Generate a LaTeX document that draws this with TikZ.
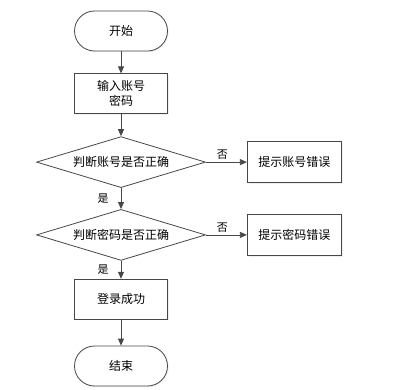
\documentclass[tikz,border=0pt]{standalone}
\usepackage{fontspec}
\newfontfamily\cjk{Noto Sans CJK SC}
\usepackage{tikz}
\usetikzlibrary{arrows.meta,shapes.geometric,positioning,shadows}

\begin{document}
\begin{tikzpicture}[
    >={Triangle[length=7pt,width=6pt]},
    font=\cjk\fontsize{12}{15}\selectfont,
    line/.style={draw=black!72, line width=0.8pt},
    box/.style={line, rectangle, align=center, fill=white,
                minimum width=93pt, minimum height=40pt, inner sep=2pt,
                drop shadow={opacity=0.12, shadow xshift=1.2pt, shadow yshift=-1.2pt}},
    term/.style={box, rounded corners=20pt},
    check/.style={line, diamond, aspect=3.3, fill=white, inner sep=0pt,
                  minimum width=169pt, minimum height=51pt},
    msg/.style={box, minimum width=94pt, minimum height=41pt},
    tag/.style={inner sep=2pt, font=\cjk\fontsize{11}{13}\selectfont},
    arr/.style={line, ->}
]
\useasboundingbox (0pt,0pt) rectangle (401pt,-389pt);
% --- main column --------------------------------------------------------
\node[term]                     (start) at (121pt,-31pt) {开始};
\node[box, below=22pt of start] (input) {输入账号\\密码};
\node[check, below=22pt of input] (chkid) {判断账号是否正确};
\node[check, below=21pt of chkid] (chkpw) {判断密码是否正确};
\node[box, below=18pt of chkpw] (ok)    {登录成功};
\node[term, below=26pt of ok]   (stop)  {结束};
% --- error messages -----------------------------------------------------
\node[msg, right=41pt of chkid] (errid) {提示账号错误};
\node[msg, right=41pt of chkpw] (errpw) {提示密码错误};
% --- arrows -------------------------------------------------------------
\draw[arr] (start) -- (input);
\draw[arr] (input) -- (chkid);
\draw[arr] (chkid) -- node[tag, left=10pt]{是} (chkpw);
\draw[arr] (chkpw) -- node[tag, left=10pt]{是} (ok);
\draw[arr] (ok) -- (stop);
\draw[arr] (chkid) -- node[tag, above, pos=0.4]{否} (errid);
\draw[arr] (chkpw) -- node[tag, above, pos=0.4]{否} (errpw);
\end{tikzpicture}
\end{document}
